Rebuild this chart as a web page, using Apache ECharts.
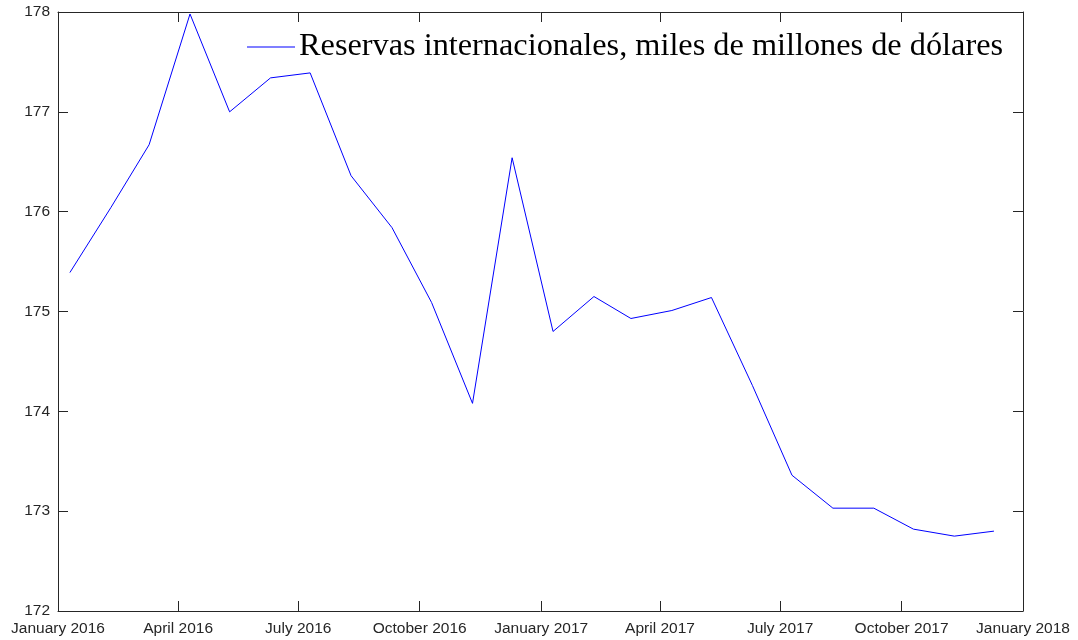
<!DOCTYPE html>
<html>
<head>
<meta charset="utf-8">
<script src="https://cdn.jsdelivr.net/npm/echarts@6/dist/echarts.min.js"></script>
<style>html,body{margin:0;padding:0;background:#fff}#c{width:1078px;height:640px}</style>
</head>
<body>
<div id="c"></div>
<script>
var dates = ['2016-01-10','2016-02-10','2016-03-10','2016-04-10','2016-05-10','2016-06-10',
  '2016-07-10','2016-08-10','2016-09-10','2016-10-10','2016-11-10','2016-12-10',
  '2017-01-10','2017-02-10','2017-03-10','2017-04-10','2017-05-10','2017-06-10',
  '2017-07-10','2017-08-10','2017-09-10','2017-10-10','2017-11-10','2017-12-10'];
var reservas = [175.39,176.04,176.67,177.98,177.00,177.34,177.39,176.36,175.84,175.09,174.08,176.54,
  174.80,175.15,174.93,175.01,175.14,174.26,173.36,173.03,173.03,172.82,172.75,172.80];
var seriesName = 'Reservas internacionales, miles de millones de dólares';
var monthNames = ['January','February','March','April','May','June','July','August','September','October','November','December'];
var xMin = '2016-01-01', xMax = '2018-01-01';
var yMin = 172, yMax = 178, yStep = 1;

var axisColor = '#262626';
var chart = echarts.init(document.getElementById('c'), null, {renderer:'canvas'});
var labelFont = {color: axisColor, fontFamily: 'Liberation Sans, Arial, sans-serif', fontSize: 15.5};
function baseX(pos, showLabel) {
  return {
    type: 'time', position: pos, min: xMin, max: xMax, splitNumber: 8,
    axisLine: {show: true, onZero: false, lineStyle: {color: axisColor, width: 1}},
    axisTick: {show: true, inside: true, length: 10, lineStyle: {color: axisColor}},
    splitLine: {show: false},
    axisLabel: Object.assign({
      show: showLabel, margin: 10, showMinLabel: true, showMaxLabel: true, hideOverlap: false,
      formatter: function (v) { var d = new Date(v); return monthNames[d.getMonth()] + ' ' + d.getFullYear(); }
    }, labelFont)
  };
}
function baseY(pos, showLabel) {
  return {
    type: 'value', position: pos, min: yMin, max: yMax, interval: yStep,
    axisLine: {show: true, onZero: false, lineStyle: {color: axisColor, width: 1}},
    axisTick: {show: true, inside: true, length: 10, lineStyle: {color: axisColor}},
    splitLine: {show: false},
    axisLabel: Object.assign({show: showLabel, margin: 8}, labelFont)
  };
}
var option = {
  animation: false,
  backgroundColor: '#ffffff',
  grid: {left: 58, right: 55, top: 12, bottom: 29, containLabel: false, outerBoundsMode: 'none'},
  legend: {
    show: true, left: 247, top: 31, itemWidth: 48, itemHeight: 1, itemGap: 0, padding: 0,
    icon: 'rect',
    data: [{name: seriesName, icon: 'rect', itemStyle: {color: '#0000ff'}}],
    textStyle: {color: '#000', fontFamily: 'Liberation Serif, Times New Roman, serif', fontSize: 32.3, padding: [0,0,0,-1]}
  },
  xAxis: [baseX('bottom', true), baseX('top', false)],
  yAxis: [baseY('left', true), baseY('right', false)],
  series: [{
    name: seriesName, type: 'line', xAxisIndex: 0, yAxisIndex: 0,
    symbol: 'none', showSymbol: false,
    lineStyle: {color: '#0000ff', width: 1}, itemStyle: {color: '#0000ff'},
    data: dates.map(function (d, i) { return [d, reservas[i]]; })
  }]
};
chart.setOption(option);
</script>
</body>
</html>
